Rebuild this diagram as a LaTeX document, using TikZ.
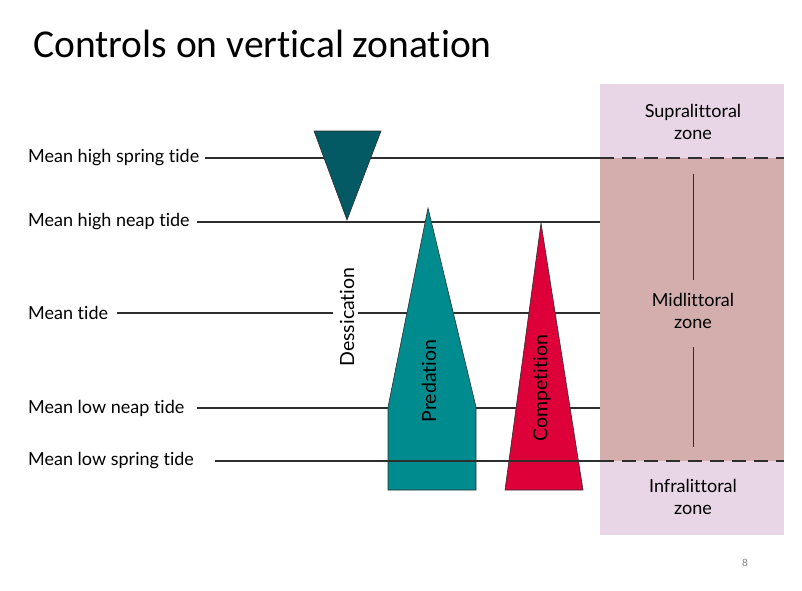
\documentclass[tikz,border=0pt]{standalone}
\usepackage{fontspec}
\setmainfont{Lato}[Ligatures={NoCommon}]
\newfontfamily\titlefont{Carlito}[Ligatures={NoCommon}]
\definecolor{dessc}{HTML}{035A64}
\definecolor{predc}{HTML}{008C8F}
\definecolor{compc}{HTML}{DD0039}
\definecolor{zonelight}{HTML}{E8D6E7}
\definecolor{zonemid}{HTML}{D3AEAC}
\definecolor{linec}{HTML}{2E2E2E}
\begin{document}
\begin{tikzpicture}[x=1pt,y=-1pt,
  tidelabel/.style={anchor=west,inner sep=0pt,font=\fontsize{18}{20}\selectfont},
  tideline/.style={draw=linec,line width=1.1pt},
  zonedash/.style={draw=linec,line width=1.1pt,dash pattern=on 14pt off 8pt},
  zonetext/.style={align=center,inner sep=0pt,font=\fontsize{18}{22}\selectfont},
  shapeout/.style={draw=linec,line width=0.6pt},
  vlabel/.style={rotate=90,inner sep=0pt,font=\fontsize{19.5}{22}\selectfont}]
\useasboundingbox (0,0) rectangle (802,590);
% title
\node[anchor=base west,inner sep=0pt,font=\titlefont\fontsize{39.5}{44}\selectfont] (title) at (33,57) {Controls on vertical zonation};
% zone box
\fill[zonelight] (600,84) rectangle (784,158);
\fill[zonemid] (600,158) rectangle (784,461);
\fill[zonelight] (600,461) rectangle (784,535);
\node[zonetext] (supra) at (693,122) {Supralittoral\\zone};
\node[zonetext] (mid) at (693,311) {Midlittoral\\zone};
\node[zonetext] (infra) at (693,497) {Infralittoral\\zone};
\coordinate (m1) at (693,174);
\coordinate (m2) at (693,447);
\draw[linec,line width=1pt] (m1) -- (mid.north |- 0,280);
\draw[linec,line width=1pt] (mid.south |- 0,347) -- (m2);
% tide labels
\node[tidelabel] (mhs) at (28,158) {Mean high spring tide};
\node[tidelabel] (mhn) at (28,222) {Mean high neap tide};
\node[tidelabel] (mt)  at (28,313) {Mean tide};
\node[tidelabel] (mln) at (28,408) {Mean low neap tide};
\node[tidelabel] (mls) at (28,461) {Mean low spring tide};
\coordinate (e1) at (600,158);
\coordinate (e2) at (600,222);
\coordinate (e3) at (600,313);
\coordinate (e4) at (600,408);
\coordinate (e5) at (600,461);
\coordinate (z1) at (784,158);
\coordinate (z5) at (784,461);
\coordinate (g1) at (333,313);
\coordinate (g2) at (358,313);
\coordinate (s1) at (205,158);
\coordinate (s2) at (197,222);
\coordinate (s3) at (117,313);
\coordinate (s4) at (197,408);
\coordinate (s5) at (215,461);
\draw[tideline] (s1) -- (e1);
\draw[tideline] (s2) -- (e2);
\draw[tideline] (s3) -- (g1);
\draw[tideline] (g2) -- (e3);
\draw[tideline] (s4) -- (e4);
\draw[zonedash] (e1) -- (z1);
\draw[zonedash] (e5) -- (z5);
% dessication triangle
\draw[shapeout,fill=dessc] (314,131) -- (381,131) -- (347,220) -- cycle;
\node[vlabel] (dess) at (347,317) {Dessication};
% predation
\draw[shapeout,fill=predc] (428,208) -- (476,407) -- (476,490) -- (388,490) -- (388,407) -- cycle;
\node[vlabel] (pred) at (429,381) {Predation};
% competition
\draw[shapeout,fill=compc] (541,223) -- (583,490) -- (505,490) -- cycle;
\node[vlabel] (comp) at (542,388) {Competition};
% low spring line on top
\draw[tideline] (s5) -- (e5);
% page number
\node[inner sep=0pt,text=gray,font=\fontsize{10}{12}\selectfont] (pg) at (745,563) {8};
\end{tikzpicture}
\end{document}
